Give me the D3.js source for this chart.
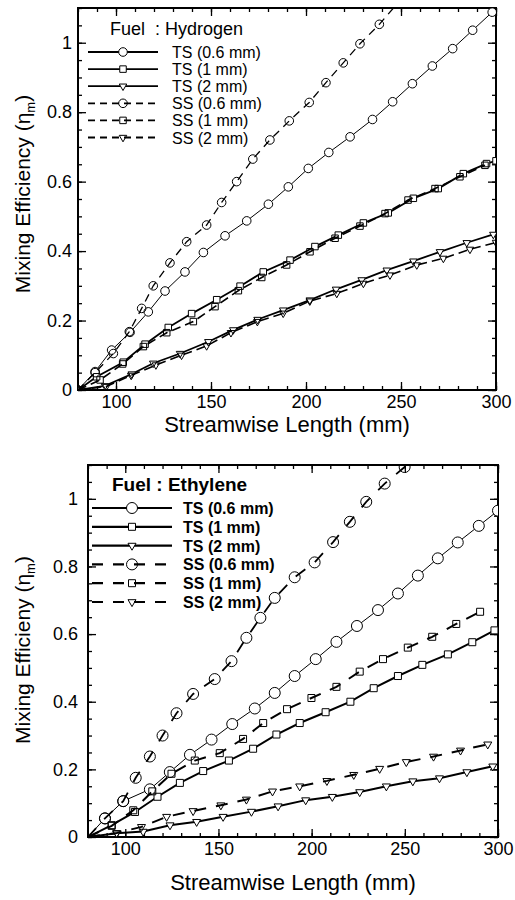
<!DOCTYPE html>
<html>
<head>
<meta charset="utf-8">
<script src="https://cdn.jsdelivr.net/npm/d3@7"></script>
<style>
  body { margin: 0; background: #fff; }
  svg { display: block; font-family: "Liberation Sans", Arial, sans-serif; }
</style>
</head>
<body>
<svg id="chart" width="515" height="900"></svg>
<script>
// ---- data (streamwise length mm, mixing efficiency) ----
// Hydrogen
const h2_ts06 = [[80,0],[89,0.053],[97.7,0.115],[107.4,0.166],[117,0.225],[125.8,0.285],[136.3,0.34],[146,0.396],[157.4,0.444],[168.8,0.487],[180.2,0.535],[190.7,0.585],[201.2,0.638],[212,0.684],[223.2,0.729],[235,0.779],[245.6,0.83],[256,0.882],[266.5,0.933],[277.2,0.983],[287.7,1.036],[298,1.088]];
const h2_ts1 = [[80,0],[89.8,0.038],[103.8,0.08],[115.3,0.132],[127.5,0.18],[139.8,0.22],[153,0.26],[165.3,0.299],[177.5,0.34],[191.6,0.374],[204.7,0.413],[217,0.446],[230.2,0.481],[243.3,0.51],[256.5,0.552],[269.6,0.58],[282.8,0.623],[295,0.652],[300,0.66]];
const h2_ts2 = [[80,0],[94.2,0.012],[108.3,0.046],[119.6,0.077],[133.7,0.105],[148.6,0.139],[161.7,0.173],[174.5,0.203],[188,0.23],[202,0.259],[215.8,0.29],[229.3,0.317],[242.5,0.345],[256.5,0.371],[270.5,0.398],[284.6,0.424],[298.6,0.448]];
const h2_ss06 = [[80,0],[89,0.05],[98.6,0.105],[107,0.168],[113.5,0.235],[119.6,0.3],[128.4,0.366],[137.2,0.427],[147.7,0.475],[155.6,0.54],[163.5,0.6],[172,0.665],[181,0.72],[191.2,0.775],[201.7,0.828],[210.5,0.885],[219.6,0.942],[228.4,0.997],[238.6,1.053],[250,1.125]];
const h2_ss1 = [[80,0],[91.6,0.029],[103.5,0.075],[114.4,0.125],[126.7,0.165],[140.7,0.197],[152.1,0.24],[164.4,0.286],[176.7,0.324],[189.8,0.36],[202.1,0.398],[215.3,0.437],[228.4,0.472],[241.6,0.508],[253.7,0.547],[267.9,0.58],[281,0.614],[294.2,0.647]];
const h2_ss2 = [[80,0],[94.9,0.01],[108,0.042],[121,0.072],[134.5,0.1],[147.7,0.127],[160.5,0.165],[174.4,0.197],[188,0.221],[202,0.256],[216.2,0.278],[230.2,0.307],[244.2,0.331],[258.3,0.36],[272.3,0.379],[286.3,0.405],[300,0.425]];
// Ethylene
const c2h4_ts06 = [[80,0],[89.1,0.055],[98.9,0.106],[113.2,0.141],[123.9,0.192],[134.7,0.243],[146.3,0.288],[157.4,0.334],[169.5,0.38],[180.2,0.426],[190.9,0.476],[202.2,0.526],[213.3,0.577],[224.3,0.624],[235.6,0.671],[246.3,0.72],[257,0.773],[267.7,0.824],[278.4,0.871],[289.7,0.92],[300,0.965]];
const c2h4_ts1 = [[80,0],[92.7,0.035],[105.2,0.074],[117.3,0.119],[129.3,0.16],[141.8,0.195],[155.6,0.226],[168.6,0.261],[181.1,0.303],[193.6,0.337],[207.5,0.369],[220.8,0.4],[233.3,0.44],[246.3,0.476],[259.4,0.509],[273.1,0.54],[286.2,0.576],[298.1,0.611]];
const c2h4_ts2 = [[80,0],[95.4,0.011],[109.6,0.016],[124,0.035],[138.3,0.045],[152.5,0.06],[167.7,0.075],[182,0.091],[196.8,0.109],[211.1,0.119],[225.8,0.133],[240.1,0.15],[254.3,0.165],[268.6,0.174],[283.3,0.192],[297.2,0.209]];
const c2h4_ss06 = [[80,0],[89.1,0.055],[98.9,0.106],[105.6,0.175],[113.2,0.238],[120,0.3],[127.5,0.366],[136.4,0.423],[148,0.467],[157,0.52],[165,0.589],[172.5,0.648],[180.2,0.707],[190.9,0.768],[201.6,0.812],[211.5,0.872],[220.5,0.932],[229.3,0.991],[239.2,1.045],[249.9,1.094],[259,1.15]];
const c2h4_ss1 = [[80,0],[92.7,0.033],[104.3,0.079],[114.5,0.135],[124.8,0.187],[137.3,0.226],[150.7,0.248],[163.2,0.29],[174,0.337],[186.8,0.378],[199.9,0.411],[213.3,0.444],[225.8,0.489],[238.3,0.526],[251.6,0.56],[264.7,0.592],[277.6,0.63],[290.4,0.666]];
const c2h4_ss2 = [[80,0],[95.4,0.012],[108.7,0.03],[122.2,0.06],[136.4,0.077],[151.3,0.094],[165,0.111],[179,0.135],[193.6,0.15],[208.2,0.166],[222.6,0.184],[236.5,0.202],[250.8,0.222],[265.4,0.238],[279.9,0.256],[294.5,0.274]];

const seriesNames = ["TS (0.6 mm)", "TS (1 mm)", "TS (2 mm)", "SS (0.6 mm)", "SS (1 mm)", "SS (2 mm)"];
const xTicks = [100, 150, 200, 250, 300];
const yTicks = [0, 0.2, 0.4, 0.6, 0.8, 1];
const xDomain = [80, 300];
const yDomain = [0, 1.1];

const svg = d3.select("#chart");

function drawPanel(cfg) {
    const x = d3.scaleLinear().domain(xDomain).range([cfg.left, cfg.right]);
    const y = d3.scaleLinear().domain(yDomain).range([cfg.bottom, cfg.top]);
    const g = svg.append("g");

    const clipId = "clip-" + cfg.id;
    svg.append("clipPath").attr("id", clipId)
        .append("rect")
        .attr("x", cfg.left).attr("y", cfg.top)
        .attr("width", cfg.right - cfg.left).attr("height", cfg.bottom - cfg.top);

    // minor ticks
    const xMinor = d3.range(80, 301, 10);
    const yMinor = d3.range(0, 1.1001, 0.05);
    const mk = (axis, ticks, size) => axis.tickValues(ticks).tickSize(size).tickFormat("").tickSizeOuter(0);

    g.append("g").attr("transform", `translate(0,${cfg.bottom})`).call(mk(d3.axisBottom(x), xMinor, -4));
    g.append("g").attr("transform", `translate(0,${cfg.top})`).call(mk(d3.axisTop(x), xMinor, -4));
    g.append("g").attr("transform", `translate(${cfg.left},0)`).call(mk(d3.axisLeft(y), yMinor, -4));
    g.append("g").attr("transform", `translate(${cfg.right},0)`).call(mk(d3.axisRight(y), yMinor, -4));
    g.append("g").attr("transform", `translate(0,${cfg.top})`).call(mk(d3.axisTop(x), xTicks, -8));
    g.append("g").attr("transform", `translate(${cfg.right},0)`).call(mk(d3.axisRight(y), yTicks, -8));

    // major ticks with labels
    g.append("g").attr("class", "xaxis")
        .attr("transform", `translate(0,${cfg.bottom})`)
        .call(d3.axisBottom(x).tickValues(xTicks).tickSize(-8).tickSizeOuter(0).tickPadding(5).tickFormat(d3.format("d")));
    g.append("g").attr("class", "yaxis")
        .attr("transform", `translate(${cfg.left},0)`)
        .call(d3.axisLeft(y).tickValues(yTicks).tickSize(-8).tickSizeOuter(0).tickPadding(cfg.yPad).tickFormat(d => d3.format("~g")(d)));

    g.selectAll(".tick line").attr("stroke", "#000").attr("stroke-width", 1.3);
    g.selectAll(".domain").remove();
    g.selectAll(".tick text").attr("font-size", 18).attr("fill", "#000")
        .attr("font-family", "'Liberation Sans', Arial, sans-serif");

    // frame
    g.append("rect")
        .attr("x", cfg.left).attr("y", cfg.top)
        .attr("width", cfg.right - cfg.left).attr("height", cfg.bottom - cfg.top)
        .attr("fill", "none").attr("stroke", "#000").attr("stroke-width", 2);

    // axis titles
    g.append("text")
        .attr("x", (cfg.left + cfg.right) / 2).attr("y", cfg.xTitleY)
        .attr("text-anchor", "middle").attr("font-size", 22)
        .text("Streamwise Length (mm)");
    const yt = g.append("text")
        .attr("transform", `translate(30,${cfg.yTitleC}) rotate(-90)`)
        .attr("text-anchor", "middle").attr("font-size", 21);
    yt.append("tspan").text(cfg.yTitle + " (η");
    yt.append("tspan").attr("font-size", 13).attr("dy", 5).text("m");
    yt.append("tspan").attr("dy", -5).text(")");

    const line = d3.line().x(d => x(d[0])).y(d => y(d[1]));
    const plot = g.append("g").attr("clip-path", `url(#${clipId})`);

    cfg.series.forEach((s, i) => {
        const st = cfg.styles[i];
        plot.append("path").datum(s)
            .attr("d", line).attr("fill", "none")
            .attr("stroke", "#000").attr("stroke-width", st.w)
            .attr("stroke-dasharray", st.dash || null);
        const pts = s.filter(d => cfg.originMarker || d[1] > 0);
        const m = plot.selectAll(null).data(pts).enter().append("path")
            .attr("d", symbolPath(st.shape, cfg))
            .attr("transform", d => `translate(${x(d[0])},${y(d[1])})`)
            .attr("fill", st.dash ? "none" : "#fff")
            .attr("stroke", "#000").attr("stroke-width", 1);
        if (!st.dash) m.raise();
    });

    // legend
    const lg = g.append("g");
    lg.append("text").attr("x", cfg.lg.titleX).attr("y", cfg.lg.titleY)
        .attr("font-size", cfg.lg.titleSize).attr("font-weight", cfg.lg.weight)
        .style("white-space", "pre").text(cfg.lg.title);
    seriesNames.forEach((name, i) => {
        const st = cfg.styles[i];
        const cy = cfg.lg.y0 + i * cfg.lg.dy;
        lg.append("line")
            .attr("x1", cfg.lg.x1).attr("x2", cfg.lg.x2).attr("y1", cy).attr("y2", cy)
            .attr("stroke", "#000").attr("stroke-width", cfg.lg.lw)
            .attr("stroke-dasharray", st.dash ? cfg.lg.dash : null);
        lg.append("path")
            .attr("d", symbolPath(st.shape, cfg))
            .attr("transform", `translate(${(cfg.lg.x1 + cfg.lg.x2) / 2},${cy})`)
            .attr("fill", st.dash ? "none" : "#fff").attr("stroke", "#000");
        lg.append("text").attr("x", cfg.lg.textX).attr("y", cy + 6)
            .attr("font-size", 16).attr("font-weight", cfg.lg.weight).text(name);
    });
}

function symbolPath(shape, cfg) {
    if (shape === "circle") return d3.symbol(d3.symbolCircle, Math.PI * cfg.r * cfg.r)();
    if (shape === "square") return d3.symbol(d3.symbolSquare, cfg.sq * cfg.sq)();
    // downward triangle
    const a = cfg.tri, h = a * Math.sqrt(3) / 2;
    return `M${-a / 2},${-h / 3}L${a / 2},${-h / 3}L0,${2 * h / 3}Z`;
}

drawPanel({
    id: "h2", left: 78, right: 496, top: 8, bottom: 390, yPad: 6, xTitleY: 432, yTitleC: 194,
    yTitle: "Mixing Efficiency", originMarker: true, r: 4.3, sq: 6.5, tri: 7.5,
    series: [h2_ts06, h2_ts1, h2_ts2, h2_ss06, h2_ss1, h2_ss2],
    styles: [
        {shape: "circle", w: 1}, {shape: "square", w: 1.8}, {shape: "triangle", w: 1.8},
        {shape: "circle", w: 1.3, dash: "8,6"}, {shape: "square", w: 1.6, dash: "9,5"}, {shape: "triangle", w: 1.6, dash: "9,5"}
    ],
    lg: {title: "Fuel  : Hydrogen", titleX: 110, titleY: 35, titleSize: 18, weight: "normal",
         x1: 88, x2: 158, textX: 172, y0: 52, dy: 17.1, lw: 1.8, dash: "7,5"}
});

drawPanel({
    id: "c2h4", left: 88, right: 498, top: 465, bottom: 837, yPad: 10, xTitleY: 890, yTitleC: 650,
    yTitle: "Mixing Efficieny", originMarker: false, r: 5.5, sq: 7, tri: 8,
    series: [c2h4_ts06, c2h4_ts1, c2h4_ts2, c2h4_ss06, c2h4_ss1, c2h4_ss2],
    styles: [
        {shape: "circle", w: 1}, {shape: "square", w: 2}, {shape: "triangle", w: 2},
        {shape: "circle", w: 1.8, dash: "12,12"}, {shape: "square", w: 2, dash: "12,10"}, {shape: "triangle", w: 2, dash: "12,10"}
    ],
    lg: {title: "Fuel : Ethylene", titleX: 112, titleY: 491, titleSize: 19, weight: "bold",
         x1: 92, x2: 172, textX: 183, y0: 508, dy: 18.8, lw: 2.2, dash: "11,10"}
});
</script>
</body>
</html>
